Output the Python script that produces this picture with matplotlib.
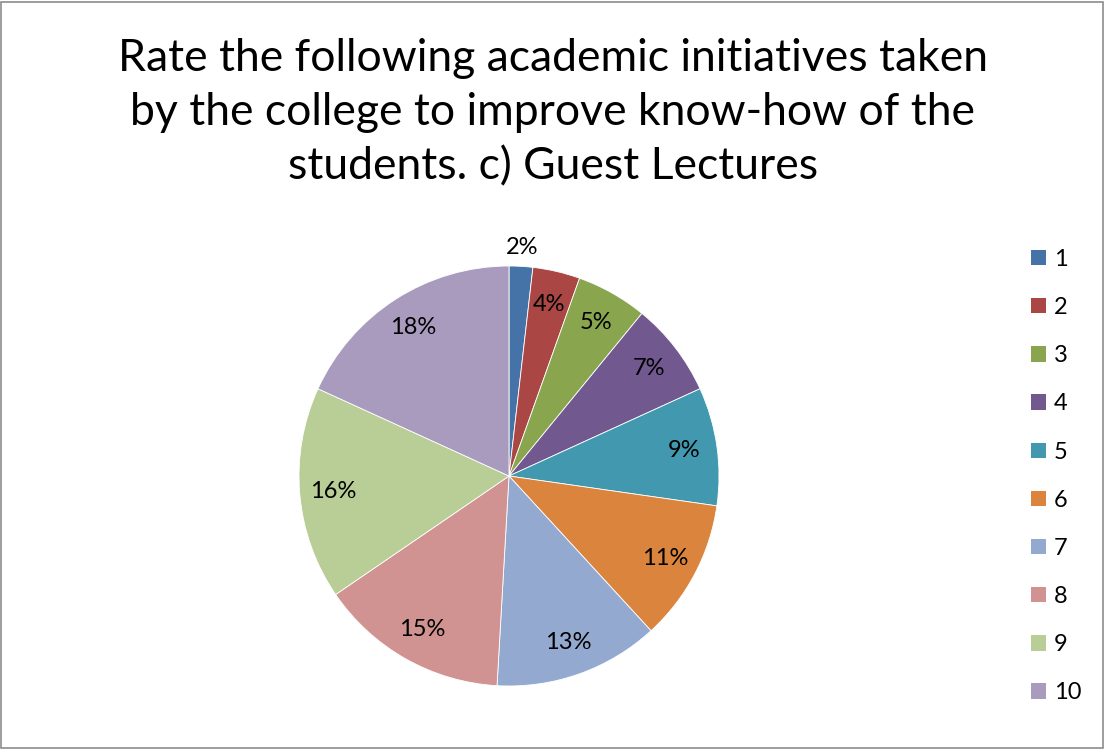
import matplotlib
matplotlib.use("Agg")
import matplotlib.pyplot as plt
from matplotlib.patches import Patch, Rectangle
import numpy as np

categories = ["1", "2", "3", "4", "5", "6", "7", "8", "9", "10"]
values = [1, 2, 3, 4, 5, 6, 7, 8, 9, 10]
colors = ["#4572A7", "#AA4643", "#89A54E", "#71588F", "#4198AF",
          "#DB843D", "#93A9CF", "#D19392", "#B9CD96", "#A99BBD"]
title = "Rate the following academic initiatives taken\nby the college to improve know-how of the\nstudents. c) Guest Lectures"

plt.rcParams['font.family'] = ['Lato', 'DejaVu Sans']

W, H = 1105, 749
fig = plt.figure(figsize=(W / 100, H / 100), dpi=100)
fig.patch.set_facecolor("white")
fig.add_artist(Rectangle((1 / W, 1 / H), 1 - 3 / W, 1 - 3 / H, transform=fig.transFigure,
                         fill=False, edgecolor="#8c8c8c", linewidth=1.2))

cx, cy, r = 509, 476, 210
ax = fig.add_axes([(cx - r) / W, (H - cy - r) / H, 2 * r / W, 2 * r / H])
wedges, texts = ax.pie(values, colors=colors, startangle=90, counterclock=False,
                       wedgeprops=dict(edgecolor="white", linewidth=0.6),
                       radius=1.0)
total = sum(values)
for i, w in enumerate(wedges):
    ang = np.deg2rad((w.theta1 + w.theta2) / 2)
    pct = values[i] / total * 100
    d = 1.09 if i == 0 else 0.84
    ax.text(d * np.cos(ang), d * np.sin(ang), f"{pct:.0f}%", ha="center", va="center",
            fontsize=17, color="black")
ax.set_xlim(-1, 1)
ax.set_ylim(-1, 1)
ax.set_aspect("equal")
ax.axis("off")

fig.text(553 / W, 1 - 113 / H, title, ha="center", va="center", fontsize=32,
         linespacing=1.4, color="black")

handles = [Patch(facecolor=c, edgecolor="none") for c in colors]
leg = fig.legend(handles, categories, loc="upper left", bbox_to_anchor=(1031 / W, 1 - 249 / H),
                 frameon=False, fontsize=17, handlelength=0.62, handleheight=0.62,
                 handletextpad=0.35, labelspacing=1.15, borderaxespad=0, borderpad=0)

fig.savefig("out.png", dpi=100)
